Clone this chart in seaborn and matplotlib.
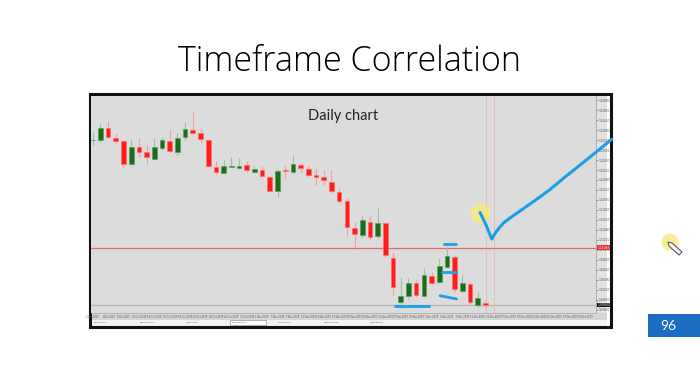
import numpy as np
import seaborn as sns
import matplotlib.pyplot as plt
from matplotlib.patches import Rectangle, Polygon

# daily candles (price scale unreadable, estimated)
opens = [1.13194, 1.13200, 1.13434, 1.13234, 1.13180, 1.12714, 1.13054, 1.12966, 1.12820, 1.13034,
         1.13186, 1.12966, 1.13266, 1.13400, 1.13334, 1.13200, 1.12666, 1.12546, 1.12666, 1.12646,
         1.12700, 1.12554, 1.12600, 1.12466, 1.12186, 1.12600, 1.12554, 1.12694, 1.12626, 1.12494,
         1.12454, 1.12366, 1.12154, 1.11980, 1.11434, 1.11300, 1.11566, 1.11286, 1.11534, 1.10846,
         1.09966, 1.10086, 1.10334, 1.10086, 1.10486, 1.10354, 1.10654, 1.10854, 1.10180, 1.10320,
         1.09900, 1.09940]
highs = [1.13366, 1.13534, 1.13580, 1.13334, 1.13200, 1.13214, 1.13234, 1.13100, 1.13234, 1.13266,
         1.13420, 1.13334, 1.13554, 1.13766, 1.13446, 1.13220, 1.12780, 1.12800, 1.12854, 1.12834,
         1.12780, 1.12680, 1.12680, 1.12480, 1.12614, 1.12700, 1.12900, 1.12746, 1.12700, 1.12614,
         1.12600, 1.12600, 1.12234, 1.12034, 1.11566, 1.11700, 1.11680, 1.11834, 1.11566, 1.10966,
         1.10466, 1.10434, 1.10400, 1.10634, 1.10566, 1.10834, 1.11066, 1.10900, 1.10500, 1.10366,
         1.10166, 1.09986]
lows = [1.13100, 1.13166, 1.13234, 1.13146, 1.12634, 1.12680, 1.12866, 1.12720, 1.12800, 1.13000,
        1.12934, 1.12900, 1.13200, 1.13300, 1.13134, 1.12660, 1.12500, 1.12534, 1.12654, 1.12626,
        1.12566, 1.12534, 1.12454, 1.12154, 1.12054, 1.12414, 1.12534, 1.12566, 1.12454, 1.12300,
        1.12300, 1.12146, 1.11934, 1.11280, 1.11034, 1.11234, 1.11200, 1.11234, 1.10866, 1.10100,
        1.09834, 1.10014, 1.10066, 1.10066, 1.10300, 1.10334, 1.10634, 1.10166, 1.10134, 1.09900,
        1.09854, 1.09866]
closes = [1.13206, 1.13434, 1.13254, 1.13186, 1.12720, 1.13054, 1.12960, 1.12866, 1.13054, 1.13200,
          1.12986, 1.13246, 1.13414, 1.13346, 1.13220, 1.12680, 1.12566, 1.12680, 1.12680, 1.12674,
          1.12600, 1.12614, 1.12480, 1.12186, 1.12586, 1.12574, 1.12720, 1.12634, 1.12500, 1.12466,
          1.12400, 1.12180, 1.11986, 1.11460, 1.11314, 1.11600, 1.11254, 1.11534, 1.10900, 1.10254,
          1.10086, 1.10334, 1.10100, 1.10500, 1.10334, 1.10680, 1.10880, 1.10220, 1.10334, 1.09954,
          1.10034, 1.09900]

level_line = 1.11046
price_ticks = [1.098, 1.100, 1.102, 1.104, 1.106, 1.108, 1.110, 1.112, 1.114, 1.116, 1.118,
               1.120, 1.122, 1.124, 1.126, 1.128, 1.130, 1.132, 1.134, 1.136, 1.138, 1.140]
date_labels = ['2 Oct 2019', '4 Oct 2019', '8 Oct 2019', '10 Oct 2019', '14 Oct 2019', '16 Oct 2019',
               '18 Oct 2019', '22 Oct 2019', '24 Oct 2019', '28 Oct 2019', '30 Oct 2019', '1 Nov 2019',
               '5 Nov 2019', '7 Nov 2019', '11 Nov 2019', '13 Nov 2019', '15 Nov 2019', '19 Nov 2019',
               '21 Nov 2019', '25 Nov 2019', '27 Nov 2019', '29 Nov 2019', '3 Dec 2019', '5 Dec 2019',
               '9 Dec 2019', '11 Dec 2019', '13 Dec 2019', '17 Dec 2019', '19 Dec 2019', '23 Dec 2019',
               '25 Dec 2019', '27 Dec 2019', '31 Dec 2019']

# hand-drawn blue strokes (candle index, price)
check_x = [50.30, 51.08, 51.82, 52.25, 52.77, 53.42, 54.19, 55.49, 57.44, 59.39,
           61.34, 63.29, 65.23, 67.40]
check_y = [1.11750, 1.11500, 1.11220, 1.11330, 1.11440, 1.11550, 1.11640, 1.11780, 1.11990, 1.12210,
           1.12460, 1.12700, 1.12940, 1.13214]
marks = [([45.62, 47.14], [1.11120, 1.11120]),
         ([45.40, 47.14], [1.10554, 1.10554]),
         ([45.10, 47.25], [1.10086, 1.10020]),
         ([39.26, 43.71], [1.09880, 1.09880])]

sns.set_style("white")
plt.rcParams['font.family'] = ['Lato', 'DejaVu Sans']

W, H = 700, 380
fig = plt.figure(figsize=(7, 3.8), dpi=100)
fig.patch.set_facecolor('white')

# slide decorations in pixel space
deco = fig.add_axes([0, 0, 1, 1], zorder=1)
deco.set_xlim(0, W)
deco.set_ylim(H, 0)
deco.axis('off')
deco.add_patch(Rectangle((596, 95), 11, 218, facecolor='#e2e2e2', edgecolor='none'))
deco.add_patch(Rectangle((91, 313), 516, 6.5, facecolor='#d6d6d6', edgecolor='none'))
deco.add_patch(Rectangle((91, 319.5), 516, 6, facecolor='#f2f2f2', edgecolor='none'))
deco.add_patch(Rectangle((89.5, 93.5), 521, 233, facecolor='none', edgecolor='#111111', lw=2.2))
tabs = ['EURUSD,H4', 'GBPUSD,Daily', 'USDJPY,H1', 'EURUSD,Daily', 'AUDUSD,H4', 'USDCAD,Daily', 'NZDUSD,H4']
for i, t in enumerate(tabs):
    x0 = 94 + i * 46
    if i == 3:
        deco.add_patch(Rectangle((x0 - 2, 320), 36, 5, facecolor='white', edgecolor='#777', lw=0.4))
    deco.text(x0, 322.8, t, fontsize=1.6, color='#555', va='center', family='DejaVu Sans')
deco.text(350, 62, 'Timeframe Correlation', fontsize=24.5, fontweight='light',
          ha='center', va='center', color='#000000', family=['Open Sans', 'Lato', 'DejaVu Sans'])
deco.add_patch(Rectangle((648, 314), 52, 23, facecolor='#1b6ec2', edgecolor='none'))
deco.text(668, 326, '96', fontsize=10, color='white', ha='center', va='center')
deco.add_patch(plt.Circle((670, 242), 8.5, color='#f7ee8a', alpha=0.9, lw=0))
deco.add_patch(Polygon([(668, 242), (672, 243), (682, 252), (679, 255), (669, 246)],
                       closed=True, facecolor='white', edgecolor='#555', lw=0.8))

# chart
ax = fig.add_axes([91 / W, 1 - 313 / H, (596 - 91) / W, (313 - 96) / H], zorder=2)
ax.set_facecolor('#dcdcdc')
idx = np.arange(len(opens))
o, h, l, c = map(np.array, (opens, highs, lows, closes))
up = c >= o

ax.vlines(idx[up], l[up], h[up], color='#9cc49c', lw=0.8, zorder=2)
ax.vlines(idx[~up], l[~up], h[~up], color='#f2a0a0', lw=0.8, zorder=2)
body_lo = np.minimum(o, c)
body_h = np.maximum(np.abs(c - o), 0.00006)
ax.bar(idx[up], body_h[up], bottom=body_lo[up], width=0.6,
       color='#1d6b1d', edgecolor='#5aa05a', lw=0.5, zorder=3)
ax.bar(idx[~up], body_h[~up], bottom=body_lo[~up], width=0.6,
       color='#ff1c1c', edgecolor='#ff7070', lw=0.5, zorder=3)

ax.axhline(level_line, color='#e06a6a', lw=0.9, zorder=1)
ax.axhline(closes[-1], color='#b8b8b8', lw=1.0, zorder=1)
ax.axvline(51.1, color='#e9a8a8', lw=0.6, ls=(0, (2, 1)), zorder=1)
ax.axvline(52.05, color='#e9a8a8', lw=0.6, ls=(0, (2, 1)), zorder=1)

ax.text(0.5, 0.91, 'Daily chart', transform=ax.transAxes, ha='center', va='center',
        fontsize=10.5, color='#222222')

ax.scatter([check_x[0]], [check_y[0]], s=200, color='#f5ec7a', alpha=0.85, lw=0, zorder=4)
sns.lineplot(x=check_x, y=check_y, sort=False, estimator=None, color='#1aa0e6', lw=2.2,
             ax=ax, zorder=5, clip_on=False)
for mx, my in marks:
    ax.plot(mx, my, color='#1aa0e6', lw=2.0, solid_capstyle='round', zorder=5)

ax.set_xlim(-0.22, 65.36)
ax.set_ylim(1.0974, 1.1408)
ax.yaxis.tick_right()
ax.set_yticks(price_ticks)
ax.set_yticklabels(['%.5f' % p for p in price_ticks])
ax.set_xticks(np.arange(0, 2 * len(date_labels), 2))
ax.set_xticklabels(date_labels)
ax.tick_params(axis='y', labelsize=2.2, length=1.5, width=0.4, pad=0.8, colors='#555555', right=True)
ax.tick_params(axis='x', labelsize=1.8, length=0, pad=1.2, colors='#555555')
for s in ['top', 'left']:
    ax.spines[s].set_visible(False)
ax.spines['right'].set_color('#999999')
ax.spines['right'].set_linewidth(0.5)
ax.spines['bottom'].set_color('#aaaaaa')
ax.spines['bottom'].set_linewidth(0.5)
ax.text(1.003, (level_line - 1.0974) / (1.1408 - 1.0974), '%.5f' % level_line, transform=ax.transAxes,
        fontsize=2.2, color='white', va='center', family='DejaVu Sans',
        bbox=dict(boxstyle='square,pad=0.15', fc='#e03030', ec='none'))
ax.text(1.003, (closes[-1] - 1.0974) / (1.1408 - 1.0974), '%.5f' % closes[-1], transform=ax.transAxes,
        fontsize=2.2, color='white', va='center', family='DejaVu Sans',
        bbox=dict(boxstyle='square,pad=0.15', fc='#111111', ec='none'))

fig.savefig('out.png', dpi=100)
